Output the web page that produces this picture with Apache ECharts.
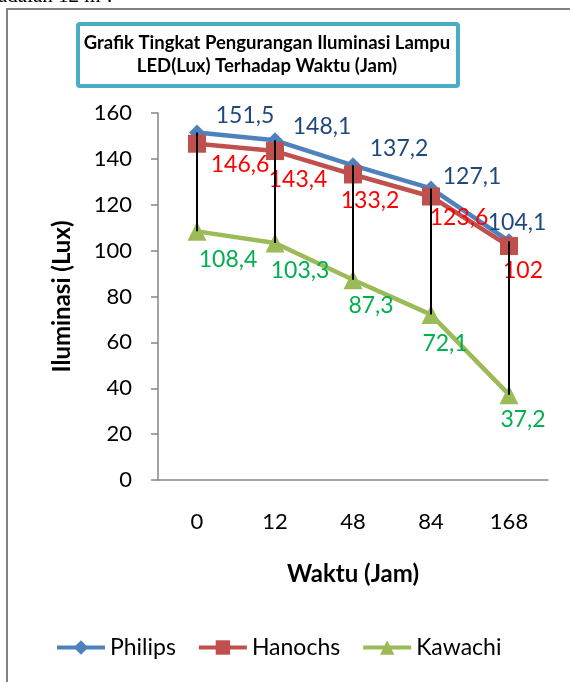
<!DOCTYPE html>
<html>
<head>
<meta charset="utf-8">
<script src="https://cdn.jsdelivr.net/npm/echarts@6/dist/echarts.min.js"></script>
<style>
html,body{margin:0;padding:0;background:#fff;}
#c{width:570px;height:682px;}
</style>
</head>
<body>
<div id="c"></div>
<script>
// ---- data ----
var categories = ['0', '12', '48', '84', '168'];
var philips = [151.5, 148.1, 137.2, 127.1, 104.1];
var hanochs = [146.6, 143.4, 133.2, 123.6, 102];
var kawachi = [108.4, 103.3, 87.3, 72.1, 37.2];
var yTicks = { min: 0, max: 160, interval: 20 };
var titleText = 'Grafik Tingkat Pengurangan Iluminasi Lampu\nLED(Lux) Terhadap Waktu (Jam)';
var xName = 'Waktu (Jam)';
var yName = 'Iluminasi (Lux)';

// ---- label styling (offsets of each data label from its point) ----
var philipsLabelOffsets = [[48,-17],[47,-14],[46,-17],[41,-12],[8,-19]];
var hanochsLabelOffsets = [[43,21],[23,29],[17,26],[28,21],[14,25]];
var kawachiLabelOffsets = [[31,28],[25,28],[18,26],[14,29],[14,25]];

var FONT = 'Lato';
function fmt(v){ return String(v).replace('.', ','); }
function withLabels(vals, offs){
  return vals.map(function(v,i){ return { value: v, label: { offset: offs[i] } }; });
}
function lineSeries(name, vals, offs, color, labelColor, symbol, size){
  return {
    name: name, type: 'line', data: withLabels(vals, offs),
    symbol: symbol, symbolSize: size,
    itemStyle: { color: color },
    lineStyle: { color: color, width: 4.5 },
    label: {
      show: true, position: 'inside', color: labelColor,
      fontFamily: FONT, fontSize: 23,
      formatter: function(p){ return fmt(p.value); }
    },
    emphasis: { disabled: true }
  };
}

var chart = echarts.init(document.getElementById('c'), null, { renderer: 'canvas' });
chart.setOption({
  animation: false,
  backgroundColor: '#fff',
  grid: { left: 158, right: 22, top: 113, bottom: 202, containLabel: false },
  xAxis: {
    type: 'category', data: categories, boundaryGap: true,
    axisLine: { lineStyle: { color: '#868686', width: 1.5 } },
    axisTick: { show: false },
    axisLabel: { color: '#000', fontFamily: FONT, fontSize: 22, margin: 31 },
    name: xName, nameLocation: 'middle', nameGap: 82,
    nameTextStyle: { color: '#000', fontFamily: FONT, fontSize: 24, fontWeight: 'bold' }
  },
  yAxis: {
    type: 'value', min: yTicks.min, max: yTicks.max, interval: yTicks.interval,
    axisLine: { show: true, lineStyle: { color: '#868686', width: 1.5 } },
    axisTick: { show: true, length: 7, lineStyle: { color: '#868686', width: 1.5 } },
    splitLine: { show: false },
    axisLabel: { color: '#000', fontFamily: FONT, fontSize: 22, margin: 26 },
    name: yName, nameLocation: 'middle', nameRotate: 90, nameGap: 84,
    nameTextStyle: { color: '#000', fontFamily: FONT, fontSize: 24, fontWeight: 'bold' }
  },
  legend: {
    data: ['Philips', 'Hanochs', 'Kawachi'],
    left: 55, top: 636, padding: 0, itemWidth: 48, itemHeight: 18, itemGap: 21,
    lineStyle: { width: 4 },
    textStyle: { color: '#000', fontFamily: FONT, fontSize: 23 }
  },
  series: [
    lineSeries('Philips', philips, philipsLabelOffsets, '#4F81BD', '#1F497D', 'diamond', 16),
    lineSeries('Hanochs', hanochs, hanochsLabelOffsets, '#C0504D', '#FF0000', 'rect', 18),
    lineSeries('Kawachi', kawachi, kawachiLabelOffsets, '#9BBB59', '#00B050', 'triangle', 19),
    {
      type: 'custom', name: 'hilo', z: 10, silent: true,
      data: categories.map(function(c,i){ return [i, philips[i], kawachi[i]]; }),
      encode: { x: 0, y: [1, 2] },
      renderItem: function(params, api){
        var p1 = api.coord([api.value(0), api.value(1)]);
        var p2 = api.coord([api.value(0), api.value(2)]);
        return { type: 'line', shape: { x1: p1[0], y1: p1[1], x2: p2[0], y2: p2[1] },
                 style: { stroke: '#000', lineWidth: 2 } };
      }
    }
  ],
  graphic: [
    { type: 'text', left: -2, top: -14, z: 1,
      style: { text: 'adalah 12 m².', fontFamily: 'Liberation Serif', fontSize: 21, fill: '#000' } },
    { type: 'rect', shape: { x: 7, y: 9, width: 620, height: 700 }, z: 0,
      style: { fill: 'none', stroke: '#808080', lineWidth: 2 } },
    { type: 'rect', shape: { x: 78, y: 24, width: 380, height: 62, r: 2 }, z: 1,
      style: { fill: '#fff', stroke: '#4BACC6', lineWidth: 4 } },
    { type: 'text', x: 267, y: 55, z: 2,
      style: { text: titleText, fontFamily: FONT, fontSize: 18.5, fontWeight: 'bold', fill: '#000',
               align: 'center', verticalAlign: 'middle', lineHeight: 23 } }
  ]
});
</script>
</body>
</html>
